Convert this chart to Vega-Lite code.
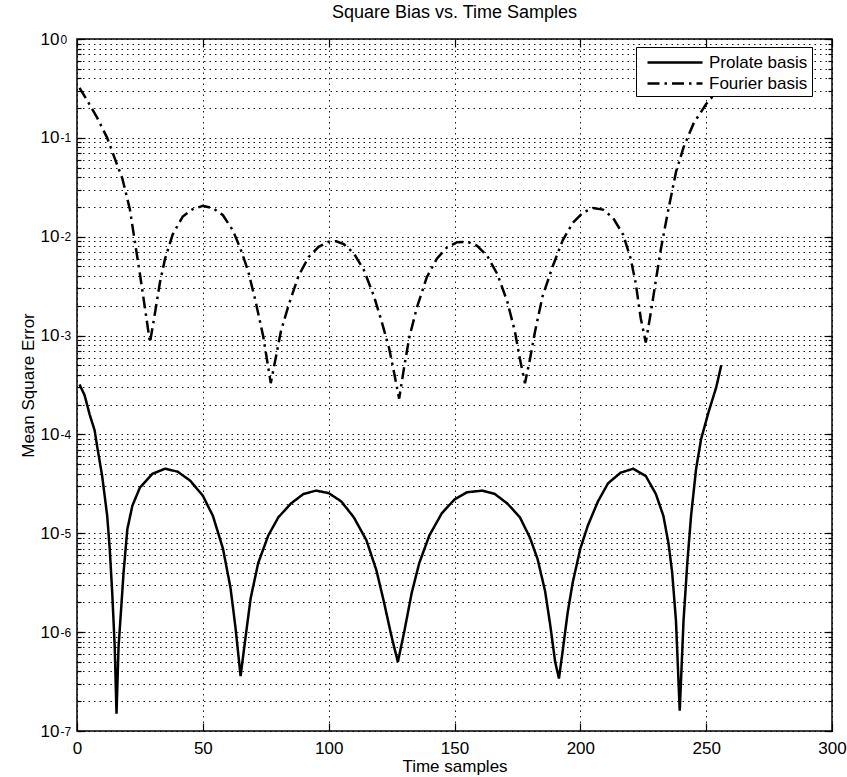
{
  "$schema": "https://vega.github.io/schema/vega-lite/v6.json",
  "width": 755,
  "height": 692,
  "autosize": {"type": "none"},
  "padding": {"left": 77, "top": 39, "right": 15, "bottom": 46},
  "background": "white",
  "title": {"text": "Square Bias vs. Time Samples", "fontSize": 18, "fontWeight": "normal", "font": "Liberation Sans", "offset": 8, "color": "black"},
  "config": {
    "view": {"stroke": "black", "strokeWidth": 1.5},
    "font": "Liberation Sans",
    "axis": {"domain": false, "labelColor": "black", "titleColor": "black", "labelFont": "Liberation Sans", "titleFont": "Liberation Sans", "tickColor": "black", "tickWidth": 1.2, "gridColor": "black", "gridDash": [1.5, 4], "gridOpacity": 0.9, "gridWidth": 1, "titleFontWeight": "normal"}
  },
  "datasets": {
    "curves": [
      {"x": 1, "y": 0.00032, "basis": "Prolate basis"},
      {"x": 3, "y": 0.00025, "basis": "Prolate basis"},
      {"x": 5, "y": 0.00016, "basis": "Prolate basis"},
      {"x": 7, "y": 0.00011, "basis": "Prolate basis"},
      {"x": 8, "y": 0.000076, "basis": "Prolate basis"},
      {"x": 10, "y": 0.000038, "basis": "Prolate basis"},
      {"x": 12, "y": 0.000015, "basis": "Prolate basis"},
      {"x": 13, "y": 0.000007, "basis": "Prolate basis"},
      {"x": 14, "y": 0.0000025, "basis": "Prolate basis"},
      {"x": 15, "y": 0.0000007, "basis": "Prolate basis"},
      {"x": 15.7, "y": 0.00000015, "basis": "Prolate basis"},
      {"x": 16.5, "y": 0.0000007, "basis": "Prolate basis"},
      {"x": 17.3, "y": 0.0000014, "basis": "Prolate basis"},
      {"x": 18.5, "y": 0.000004, "basis": "Prolate basis"},
      {"x": 20, "y": 0.000011, "basis": "Prolate basis"},
      {"x": 22, "y": 0.000019, "basis": "Prolate basis"},
      {"x": 25, "y": 0.000029, "basis": "Prolate basis"},
      {"x": 30, "y": 0.00004, "basis": "Prolate basis"},
      {"x": 35, "y": 0.000045, "basis": "Prolate basis"},
      {"x": 40, "y": 0.000042, "basis": "Prolate basis"},
      {"x": 45, "y": 0.000034, "basis": "Prolate basis"},
      {"x": 50, "y": 0.000024, "basis": "Prolate basis"},
      {"x": 54, "y": 0.000015, "basis": "Prolate basis"},
      {"x": 58, "y": 0.000007, "basis": "Prolate basis"},
      {"x": 61, "y": 0.0000028, "basis": "Prolate basis"},
      {"x": 63, "y": 0.0000011, "basis": "Prolate basis"},
      {"x": 65, "y": 0.00000036, "basis": "Prolate basis"},
      {"x": 67, "y": 0.0000009, "basis": "Prolate basis"},
      {"x": 69, "y": 0.0000022, "basis": "Prolate basis"},
      {"x": 72, "y": 0.000005, "basis": "Prolate basis"},
      {"x": 76, "y": 0.0000095, "basis": "Prolate basis"},
      {"x": 80, "y": 0.0000145, "basis": "Prolate basis"},
      {"x": 85, "y": 0.00002, "basis": "Prolate basis"},
      {"x": 90, "y": 0.000025, "basis": "Prolate basis"},
      {"x": 95, "y": 0.000027, "basis": "Prolate basis"},
      {"x": 100, "y": 0.0000255, "basis": "Prolate basis"},
      {"x": 105, "y": 0.000021, "basis": "Prolate basis"},
      {"x": 110, "y": 0.0000145, "basis": "Prolate basis"},
      {"x": 115, "y": 0.0000085, "basis": "Prolate basis"},
      {"x": 119, "y": 0.0000042, "basis": "Prolate basis"},
      {"x": 122, "y": 0.000002, "basis": "Prolate basis"},
      {"x": 125, "y": 0.0000009, "basis": "Prolate basis"},
      {"x": 127.5, "y": 0.0000005, "basis": "Prolate basis"},
      {"x": 130, "y": 0.000001, "basis": "Prolate basis"},
      {"x": 133, "y": 0.0000025, "basis": "Prolate basis"},
      {"x": 136, "y": 0.000005, "basis": "Prolate basis"},
      {"x": 140, "y": 0.0000095, "basis": "Prolate basis"},
      {"x": 145, "y": 0.000016, "basis": "Prolate basis"},
      {"x": 150, "y": 0.000022, "basis": "Prolate basis"},
      {"x": 155, "y": 0.000026, "basis": "Prolate basis"},
      {"x": 161, "y": 0.000027, "basis": "Prolate basis"},
      {"x": 166, "y": 0.000025, "basis": "Prolate basis"},
      {"x": 171, "y": 0.00002, "basis": "Prolate basis"},
      {"x": 176, "y": 0.0000145, "basis": "Prolate basis"},
      {"x": 180, "y": 0.000009, "basis": "Prolate basis"},
      {"x": 183, "y": 0.0000055, "basis": "Prolate basis"},
      {"x": 186, "y": 0.0000026, "basis": "Prolate basis"},
      {"x": 188, "y": 0.0000012, "basis": "Prolate basis"},
      {"x": 190, "y": 0.0000005, "basis": "Prolate basis"},
      {"x": 191.5, "y": 0.00000034, "basis": "Prolate basis"},
      {"x": 193, "y": 0.00000065, "basis": "Prolate basis"},
      {"x": 195, "y": 0.0000016, "basis": "Prolate basis"},
      {"x": 197, "y": 0.0000032, "basis": "Prolate basis"},
      {"x": 200, "y": 0.000007, "basis": "Prolate basis"},
      {"x": 203, "y": 0.000012, "basis": "Prolate basis"},
      {"x": 207, "y": 0.000021, "basis": "Prolate basis"},
      {"x": 211, "y": 0.000032, "basis": "Prolate basis"},
      {"x": 216, "y": 0.000041, "basis": "Prolate basis"},
      {"x": 221, "y": 0.000045, "basis": "Prolate basis"},
      {"x": 226, "y": 0.000038, "basis": "Prolate basis"},
      {"x": 230, "y": 0.000025, "basis": "Prolate basis"},
      {"x": 233, "y": 0.000015, "basis": "Prolate basis"},
      {"x": 235, "y": 0.000008, "basis": "Prolate basis"},
      {"x": 236.5, "y": 0.000004, "basis": "Prolate basis"},
      {"x": 238, "y": 0.0000013, "basis": "Prolate basis"},
      {"x": 239.5, "y": 0.00000016, "basis": "Prolate basis"},
      {"x": 241, "y": 0.0000013, "basis": "Prolate basis"},
      {"x": 242.5, "y": 0.000005, "basis": "Prolate basis"},
      {"x": 244, "y": 0.000015, "basis": "Prolate basis"},
      {"x": 246, "y": 0.000045, "basis": "Prolate basis"},
      {"x": 248, "y": 0.00009, "basis": "Prolate basis"},
      {"x": 251, "y": 0.00017, "basis": "Prolate basis"},
      {"x": 254, "y": 0.0003, "basis": "Prolate basis"},
      {"x": 256, "y": 0.0005, "basis": "Prolate basis"},
      {"x": 1, "y": 0.32, "basis": "Fourier basis"},
      {"x": 4, "y": 0.24, "basis": "Fourier basis"},
      {"x": 8, "y": 0.16, "basis": "Fourier basis"},
      {"x": 12, "y": 0.1, "basis": "Fourier basis"},
      {"x": 15, "y": 0.062, "basis": "Fourier basis"},
      {"x": 18, "y": 0.039, "basis": "Fourier basis"},
      {"x": 21, "y": 0.019, "basis": "Fourier basis"},
      {"x": 23, "y": 0.0089, "basis": "Fourier basis"},
      {"x": 25, "y": 0.0042, "basis": "Fourier basis"},
      {"x": 27, "y": 0.0019, "basis": "Fourier basis"},
      {"x": 29, "y": 0.00085, "basis": "Fourier basis"},
      {"x": 31, "y": 0.0017, "basis": "Fourier basis"},
      {"x": 33, "y": 0.0035, "basis": "Fourier basis"},
      {"x": 35, "y": 0.006, "basis": "Fourier basis"},
      {"x": 38, "y": 0.0105, "basis": "Fourier basis"},
      {"x": 42, "y": 0.016, "basis": "Fourier basis"},
      {"x": 46, "y": 0.019, "basis": "Fourier basis"},
      {"x": 50, "y": 0.0205, "basis": "Fourier basis"},
      {"x": 54, "y": 0.0195, "basis": "Fourier basis"},
      {"x": 58, "y": 0.0165, "basis": "Fourier basis"},
      {"x": 62, "y": 0.0115, "basis": "Fourier basis"},
      {"x": 65, "y": 0.0075, "basis": "Fourier basis"},
      {"x": 68, "y": 0.0045, "basis": "Fourier basis"},
      {"x": 71, "y": 0.0022, "basis": "Fourier basis"},
      {"x": 74, "y": 0.00098, "basis": "Fourier basis"},
      {"x": 77, "y": 0.00033, "basis": "Fourier basis"},
      {"x": 79, "y": 0.0006, "basis": "Fourier basis"},
      {"x": 81, "y": 0.0011, "basis": "Fourier basis"},
      {"x": 84, "y": 0.002, "basis": "Fourier basis"},
      {"x": 88, "y": 0.004, "basis": "Fourier basis"},
      {"x": 92, "y": 0.0062, "basis": "Fourier basis"},
      {"x": 96, "y": 0.0079, "basis": "Fourier basis"},
      {"x": 100, "y": 0.0089, "basis": "Fourier basis"},
      {"x": 103, "y": 0.009, "basis": "Fourier basis"},
      {"x": 106, "y": 0.0084, "basis": "Fourier basis"},
      {"x": 110, "y": 0.0068, "basis": "Fourier basis"},
      {"x": 114, "y": 0.0046, "basis": "Fourier basis"},
      {"x": 118, "y": 0.0025, "basis": "Fourier basis"},
      {"x": 121, "y": 0.0014, "basis": "Fourier basis"},
      {"x": 124, "y": 0.00075, "basis": "Fourier basis"},
      {"x": 126, "y": 0.00042, "basis": "Fourier basis"},
      {"x": 128, "y": 0.00023, "basis": "Fourier basis"},
      {"x": 130, "y": 0.00048, "basis": "Fourier basis"},
      {"x": 132, "y": 0.00095, "basis": "Fourier basis"},
      {"x": 135, "y": 0.0019, "basis": "Fourier basis"},
      {"x": 139, "y": 0.0039, "basis": "Fourier basis"},
      {"x": 143, "y": 0.006, "basis": "Fourier basis"},
      {"x": 147, "y": 0.0078, "basis": "Fourier basis"},
      {"x": 151, "y": 0.0088, "basis": "Fourier basis"},
      {"x": 155, "y": 0.0089, "basis": "Fourier basis"},
      {"x": 159, "y": 0.0081, "basis": "Fourier basis"},
      {"x": 163, "y": 0.0064, "basis": "Fourier basis"},
      {"x": 167, "y": 0.0042, "basis": "Fourier basis"},
      {"x": 171, "y": 0.0022, "basis": "Fourier basis"},
      {"x": 174, "y": 0.0011, "basis": "Fourier basis"},
      {"x": 176, "y": 0.00058, "basis": "Fourier basis"},
      {"x": 178, "y": 0.00033, "basis": "Fourier basis"},
      {"x": 180, "y": 0.00058, "basis": "Fourier basis"},
      {"x": 182, "y": 0.0011, "basis": "Fourier basis"},
      {"x": 185, "y": 0.0025, "basis": "Fourier basis"},
      {"x": 189, "y": 0.005, "basis": "Fourier basis"},
      {"x": 193, "y": 0.0092, "basis": "Fourier basis"},
      {"x": 197, "y": 0.0138, "basis": "Fourier basis"},
      {"x": 201, "y": 0.0175, "basis": "Fourier basis"},
      {"x": 205, "y": 0.0195, "basis": "Fourier basis"},
      {"x": 209, "y": 0.0188, "basis": "Fourier basis"},
      {"x": 213, "y": 0.0155, "basis": "Fourier basis"},
      {"x": 217, "y": 0.0105, "basis": "Fourier basis"},
      {"x": 220, "y": 0.006, "basis": "Fourier basis"},
      {"x": 222, "y": 0.0034, "basis": "Fourier basis"},
      {"x": 224, "y": 0.0015, "basis": "Fourier basis"},
      {"x": 226, "y": 0.00085, "basis": "Fourier basis"},
      {"x": 228, "y": 0.0017, "basis": "Fourier basis"},
      {"x": 230, "y": 0.0036, "basis": "Fourier basis"},
      {"x": 232, "y": 0.0075, "basis": "Fourier basis"},
      {"x": 235, "y": 0.019, "basis": "Fourier basis"},
      {"x": 238, "y": 0.045, "basis": "Fourier basis"},
      {"x": 241, "y": 0.08, "basis": "Fourier basis"},
      {"x": 245, "y": 0.14, "basis": "Fourier basis"},
      {"x": 250, "y": 0.22, "basis": "Fourier basis"},
      {"x": 255, "y": 0.31, "basis": "Fourier basis"}
    ]
  },
  "data": {"name": "curves"},
  "resolve": {"axis": {"x": "independent", "y": "independent"}},
  "layer": [
    {
      "mark": {"type": "line", "color": "black", "strokeWidth": 2.5, "clip": true},
      "encoding": {
        "x": {"field": "x", "type": "quantitative", "scale": {"domain": [0, 300], "nice": false},
              "axis": {"orient": "bottom", "values": [0, 50, 100, 150, 200, 250, 300], "ticks": false, "grid": true, "labelFontSize": 17, "labelPadding": 9, "title": "Time samples", "titleFontSize": 17, "titlePadding": 2, "labelFlush": false}},
        "y": {"field": "y", "type": "quantitative", "scale": {"type": "log", "domain": [1e-7, 1], "nice": false},
              "axis": {"orient": "left", "values": [1e-7,2e-7,3e-7,4e-7,5e-7,6e-7,7e-7,8e-7,9e-7,1e-6,2e-6,3e-6,4e-6,5e-6,6e-6,7e-6,8e-6,9e-6,1e-5,2e-5,3e-5,4e-5,5e-5,6e-5,7e-5,8e-5,9e-5,1e-4,2e-4,3e-4,4e-4,5e-4,6e-4,7e-4,8e-4,9e-4,1e-3,2e-3,3e-3,4e-3,5e-3,6e-3,7e-3,8e-3,9e-3,1e-2,2e-2,3e-2,4e-2,5e-2,6e-2,7e-2,8e-2,9e-2,0.1,0.2,0.3,0.4,0.5,0.6,0.7,0.8,0.9,1],
                       "grid": true, "labels": false, "ticks": true, "tickSize": -4, "title": null}},
        "strokeDash": {"field": "basis", "type": "nominal",
                       "scale": {"domain": ["Prolate basis", "Fourier basis"], "range": [[1, 0], [12, 5, 2.5, 5]]},
                       "legend": {"title": null, "orient": "none", "legendX": 559, "legendY": 8, "strokeColor": "black", "fillColor": "white", "padding": 4, "labelFontSize": 17, "labelColor": "black", "symbolStrokeWidth": 2.5, "symbolStrokeColor": "black", "symbolSize": 400, "symbolType": "M-2.75,0H2.75", "symbolOffset": 23.5, "rowPadding": 1, "labelOffset": 22.5}}
      }
    },
    {
      "mark": {"type": "point", "opacity": 0},
      "encoding": {
        "y": {"field": "y", "type": "quantitative",
              "axis": {"orient": "left", "values": [1e-7,1e-6,1e-5,1e-4,1e-3,1e-2,0.1,1], "labelExpr": "'10'", "ticks": false, "grid": false, "labelFontSize": 17, "labelAlign": "right", "labelPadding": 18, "title": "Mean Square Error", "titleFontSize": 17, "titlePadding": 3}}
      }
    },
    {
      "mark": {"type": "point", "opacity": 0},
      "encoding": {
        "y": {"field": "y", "type": "quantitative",
              "axis": {"orient": "left", "values": [1e-7,1e-6,1e-5,1e-4,1e-3,1e-2,0.1,1], "labelExpr": "'' + round(log(datum.value)/LN10)", "ticks": false, "grid": false, "labelFontSize": 12, "labelAlign": "left", "labelPadding": 17, "labelDy": -8, "title": null}}
      }
    },
    {
      "mark": {"type": "point", "opacity": 0},
      "encoding": {
        "y": {"field": "y", "type": "quantitative",
              "axis": {"orient": "left", "values": [1e-7,1e-6,1e-5,1e-4,1e-3,1e-2,0.1,1], "labels": false, "ticks": true, "tickSize": -8, "grid": false, "title": null}}
      }
    },
    {
      "mark": {"type": "point", "opacity": 0},
      "encoding": {
        "y": {"field": "y", "type": "quantitative",
              "axis": {"orient": "right", "values": [1e-7,2e-7,3e-7,4e-7,5e-7,6e-7,7e-7,8e-7,9e-7,1e-6,2e-6,3e-6,4e-6,5e-6,6e-6,7e-6,8e-6,9e-6,1e-5,2e-5,3e-5,4e-5,5e-5,6e-5,7e-5,8e-5,9e-5,1e-4,2e-4,3e-4,4e-4,5e-4,6e-4,7e-4,8e-4,9e-4,1e-3,2e-3,3e-3,4e-3,5e-3,6e-3,7e-3,8e-3,9e-3,1e-2,2e-2,3e-2,4e-2,5e-2,6e-2,7e-2,8e-2,9e-2,0.1,0.2,0.3,0.4,0.5,0.6,0.7,0.8,0.9,1],
                       "labels": false, "ticks": true, "tickSize": -4, "grid": false, "title": null}}
      }
    },
    {
      "mark": {"type": "point", "opacity": 0},
      "encoding": {
        "y": {"field": "y", "type": "quantitative",
              "axis": {"orient": "right", "values": [1e-7,1e-6,1e-5,1e-4,1e-3,1e-2,0.1,1], "labels": false, "ticks": true, "tickSize": -8, "grid": false, "title": null}}
      }
    },
    {
      "mark": {"type": "point", "opacity": 0},
      "encoding": {
        "x": {"field": "x", "type": "quantitative",
              "axis": {"orient": "bottom", "values": [0, 50, 100, 150, 200, 250, 300], "labels": false, "ticks": true, "tickSize": -8, "grid": false, "title": null}}
      }
    },
    {
      "mark": {"type": "point", "opacity": 0},
      "encoding": {
        "x": {"field": "x", "type": "quantitative",
              "axis": {"orient": "top", "values": [0, 50, 100, 150, 200, 250, 300], "labels": false, "ticks": true, "tickSize": -8, "grid": false, "title": null}}
      }
    }
  ]
}
